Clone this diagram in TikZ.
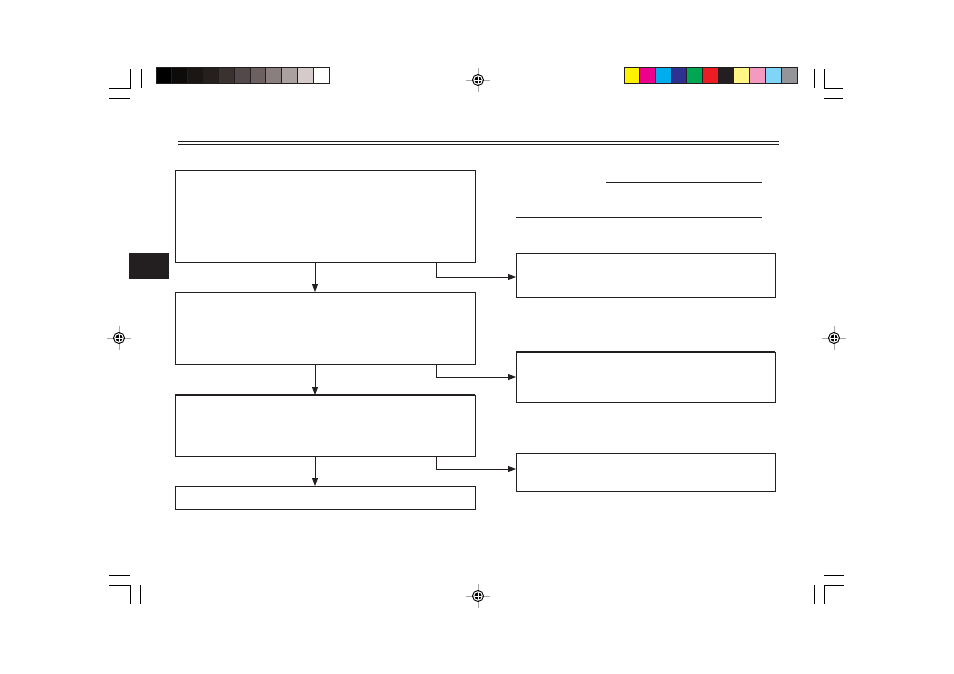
\documentclass[tikz,border=0pt]{standalone}
\usetikzlibrary{arrows.meta,calc}
\definecolor{ink}{HTML}{231F20}
\definecolor{g1}{HTML}{0E0C0B}\definecolor{g2}{HTML}{1A1614}\definecolor{g3}{HTML}{25201E}
\definecolor{g4}{HTML}{3A3230}\definecolor{g5}{HTML}{54494A}\definecolor{g6}{HTML}{6C6061}
\definecolor{g7}{HTML}{8A7E7F}\definecolor{g8}{HTML}{AAA09F}\definecolor{g9}{HTML}{D6CBCB}
\definecolor{c1}{HTML}{FFF200}\definecolor{c2}{HTML}{EC008C}\definecolor{c3}{HTML}{00AEEF}
\definecolor{c4}{HTML}{2E3192}\definecolor{c5}{HTML}{00A651}\definecolor{c6}{HTML}{ED1C24}
\definecolor{c7}{HTML}{231F20}\definecolor{c8}{HTML}{FFF685}\definecolor{c9}{HTML}{F49AC1}
\definecolor{c10}{HTML}{7FD5F7}\definecolor{c11}{HTML}{939598}
\tikzset{
  flowbox/.style={draw=ink,line width=0.95pt,inner sep=0pt,outer sep=0pt,rectangle},
  arr/.style={draw=ink,line width=0.9pt,-{Triangle[length=8pt,width=6pt]}},
  crop/.style={draw=black,line width=1pt},
  rule/.style={draw=ink,line width=0.95pt},
  regline/.style={draw=gray!70,line width=0.8pt}
}
\newcommand{\regmark}[2]{%
  \draw[regline] (#1-12,#2) -- (#1+12,#2) (#1,#2-12) -- (#1,#2+12);
  \draw[black,line width=0.9pt] (#1,#2) circle (5.5pt);
  \fill[black] (#1,#2) circle (3.6pt);
  \draw[white,line width=0.8pt] (#1-3.6,#2) -- (#1+3.6,#2) (#1,#2-3.6) -- (#1,#2+3.6);
}
\begin{document}
\begin{tikzpicture}[x=1pt,y=-1pt]
\useasboundingbox (0,0) rectangle (954,674);
% colour bars
\foreach \c [count=\i from 0] in {black,g1,g2,g3,g4,g5,g6,g7,g8,g9,white}
  \fill[\c] (156+\i*15.7,68) rectangle ++(15.7,16);
\draw[ink,line width=1pt] (156,68) rectangle (329,84);
\foreach \c [count=\i from 0] in {c1,c2,c3,c4,c5,c6,c7,c8,c9,c10,c11}
  \fill[\c] (624+\i*15.7,68) rectangle ++(15.7,16);
\draw[ink,line width=1pt] (624,68) rectangle (797,84);
\foreach \i in {1,...,10} {
  \draw[ink,line width=1pt] (156+\i*15.7,68) -- ++(0,16);
  \draw[ink,line width=1pt] (624+\i*15.7,68) -- ++(0,16);
}
% crop marks
\draw[crop] (109,89) -- (130,89) -- (130,69) (141,69) -- (141,88) (109,99) -- (130,99);
\draw[crop] (843,89) -- (824,89) -- (824,69) (814,69) -- (814,88) (824,99) -- (843,99);
\draw[crop] (109,575) -- (130,575) (109,585) -- (130,585) -- (130,604) (140,585) -- (140,604);
\draw[crop] (824,575) -- (844,575) (844,585) -- (824,585) -- (824,604) (814,585) -- (814,604);
% registration marks
\regmark{478}{80}
\regmark{119}{338}
\regmark{834}{338}
\regmark{478}{596}
% header double rule
\draw[ink,line width=1pt] (178,141.5) -- (779,141.5);
\draw[ink,line width=1pt] (178,144.5) -- (779,144.5);
% tab
\fill[ink] (129,253) rectangle (169,279);
% rules top right
\draw[rule] (606,182) -- (762,182);
\draw[rule] (516,217) -- (762,217);
% boxes left
\node[flowbox,minimum width=300pt,minimum height=92pt] (b1) at (325,216) {};
\node[flowbox,minimum width=300pt,minimum height=72pt] (b2) at (325,328) {};
\node[flowbox,minimum width=300pt,minimum height=61pt] (b3) at (325,425.5) {};
\node[flowbox,minimum width=300pt,minimum height=23pt] (b4) at (325,497.5) {};
\draw[ink,line width=1.8pt] (b3.north west) -- (b3.north east);
% boxes right
\node[flowbox,minimum width=259pt,minimum height=44pt] (r1) at (645.5,275) {};
\node[flowbox,minimum width=259pt,minimum height=50pt] (r2) at (645.5,377) {};
\node[flowbox,minimum width=259pt,minimum height=38pt] (r3) at (645.5,472) {};
\draw[ink,line width=1.8pt] (r2.north west) -- (r2.north east);
% down arrows
\draw[arr] ([xshift=-10pt]b1.south) -- ([xshift=-10pt]b2.north);
\draw[arr] ([xshift=-10pt]b2.south) -- ([xshift=-10pt]b3.north);
\draw[arr] ([xshift=-10pt]b3.south) -- ([xshift=-10pt]b4.north);
% side arrows
\draw[arr] ([xshift=111pt]b1.south) |- ([yshift=-2pt]r1.west);
\draw[arr] ([xshift=111pt]b2.south) |- (r2.west);
\draw[arr] ([xshift=111pt]b3.south) |- ([yshift=3pt]r3.west);
\end{tikzpicture}
\end{document}
